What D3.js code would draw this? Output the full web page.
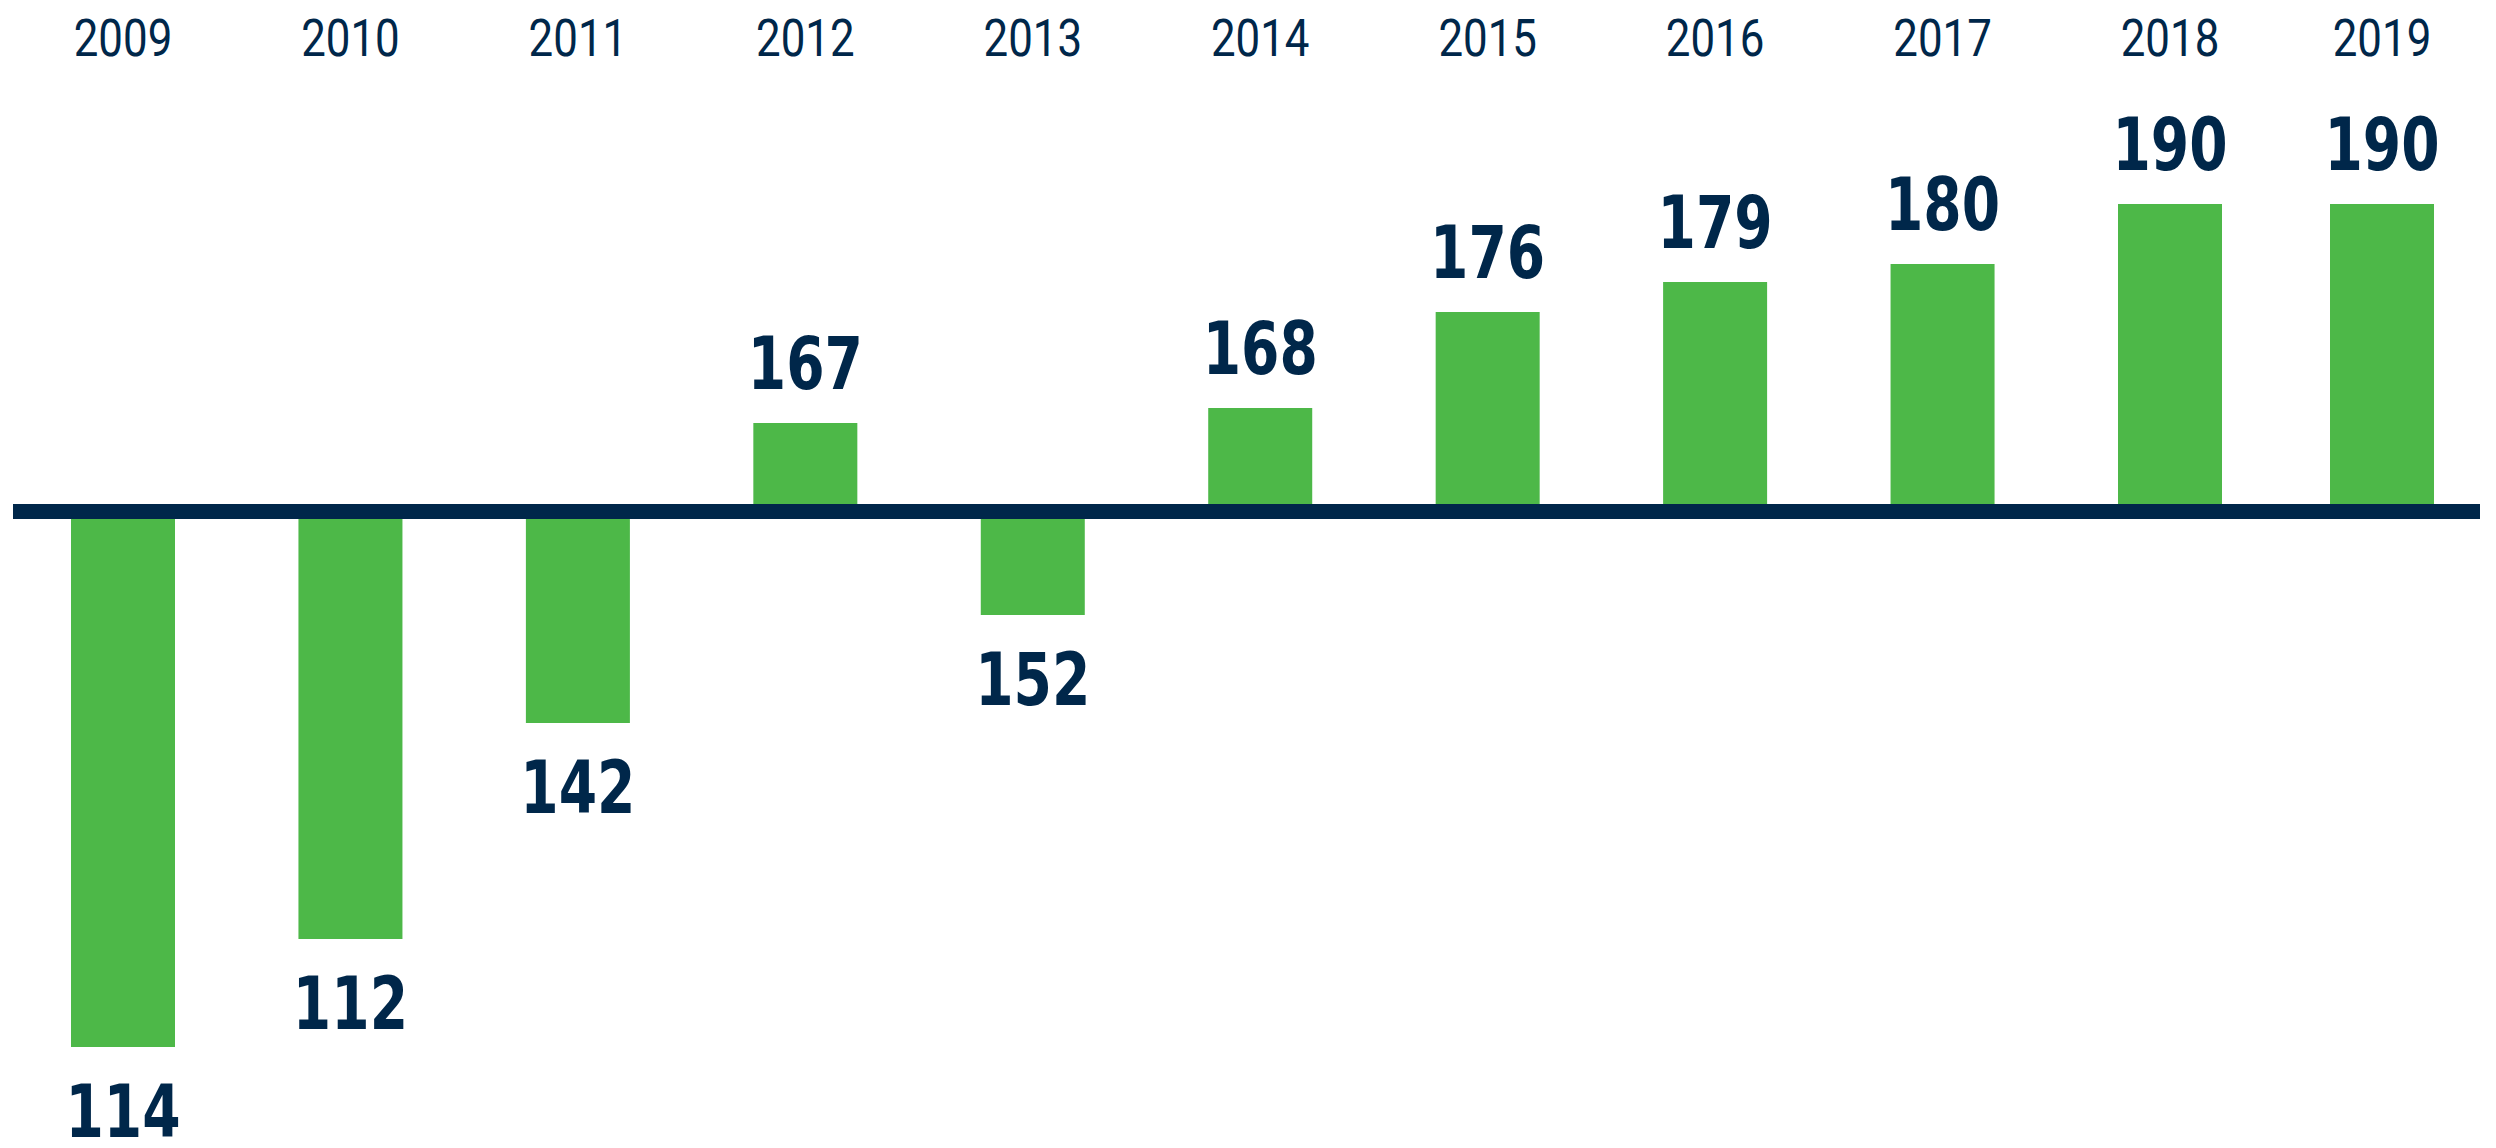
<!DOCTYPE html>
<html>
<head>
<meta charset="utf-8">
<script src="https://cdn.jsdelivr.net/npm/d3@7"></script>
<style>
  html, body { margin: 0; padding: 0; background: #ffffff; }
  svg { display: block; }
</style>
</head>
<body>
<svg id="chart" width="2496" height="1148"></svg>
<script>
// ---- data ----
const years = [2009, 2010, 2011, 2012, 2013, 2014, 2015, 2016, 2017, 2018, 2019];
const rankLabels = [114, 112, 142, 167, 152, 168, 176, 179, 180, 190, 190];
// bar length (signed, arbitrary index units as drawn: up = positive, down = negative)
const barValues = [-176, -140, -68, 27, -32, 32, 64, 74, 80, 100, 100];

// ---- style ----
const navy = "#00274a";
const green = "#4db848";

const svg = d3.select("#chart");

// x: piecewise linear (last column is slightly closer)
const x = d3.scaleLinear().domain([2009, 2018, 2019]).range([123, 2170, 2382]);
const barW = 104;

const axisTop = 504, axisBottom = 519;
const yUp = d3.scaleLinear().domain([0, 100]).range([axisTop, 204]);
const yDown = d3.scaleLinear().domain([0, -176]).range([axisBottom, 1047]);

const data = years.map((yr, i) => ({ year: yr, label: rankLabels[i], v: barValues[i] }));

// bars
svg.append("g").selectAll("rect").data(data).join("rect")
  .attr("x", d => x(d.year) - barW / 2)
  .attr("width", barW)
  .attr("y", d => d.v >= 0 ? yUp(d.v) : axisBottom)
  .attr("height", d => d.v >= 0 ? axisTop - yUp(d.v) : yDown(d.v) - axisBottom)
  .attr("fill", green);

// baseline
svg.append("rect")
  .attr("x", 13).attr("width", 2480 - 13)
  .attr("y", axisTop).attr("height", axisBottom - axisTop)
  .attr("fill", navy);

// year labels (top axis)
svg.append("g").selectAll("text").data(years).join("text")
  .attr("transform", d => `translate(${x(d)},56) scale(0.86,1)`)
  .attr("text-anchor", "middle")
  .attr("fill", navy)
  .style("font-family", "Roboto, 'DejaVu Sans Condensed', sans-serif")
  .style("font-size", "51px")
  .style("font-weight", "400")
  .text(d => d3.format("d")(d));

// value labels
svg.append("g").selectAll("text").data(data).join("text")
  .attr("transform", d => `translate(${x(d.year)},${d.v >= 0 ? yUp(d.v) - 34 : yDown(d.v) + 90}) scale(0.84,1)`)
  .attr("text-anchor", "middle")
  .attr("fill", navy)
  .style("font-family", "'DejaVu Sans Condensed', 'DejaVu Sans', sans-serif")
  .style("font-size", "73px")
  .style("font-weight", "700")
  .text(d => d.label);
</script>
</body>
</html>
